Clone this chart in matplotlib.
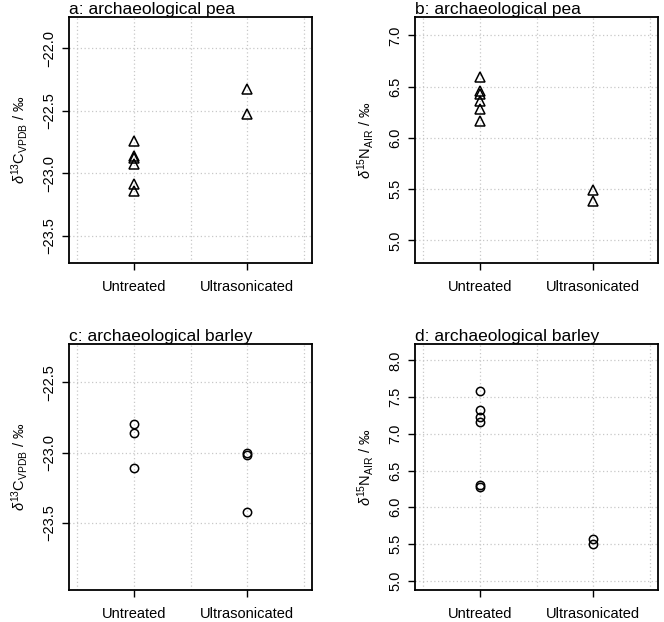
import matplotlib
matplotlib.use("Agg")
import matplotlib.pyplot as plt

plt.rcParams['font.family'] = ['Liberation Sans', 'DejaVu Sans']
plt.rcParams['mathtext.fontset'] = 'custom'
plt.rcParams['mathtext.rm'] = 'Liberation Sans'
plt.rcParams['mathtext.it'] = 'Liberation Sans:italic'

groups = ['Untreated', 'Ultrasonicated']

# a: pea d13C
pea_c_untreated = [-22.74, -22.86, -22.88, -22.93, -23.09, -23.14]
pea_c_ultra = [-22.33, -22.53]
# b: pea d15N
pea_n_untreated = [6.59, 6.46, 6.43, 6.36, 6.28, 6.17]
pea_n_ultra = [5.49, 5.38]
# c: barley d13C
barley_c_untreated = [-22.80, -22.86, -23.11]
barley_c_ultra = [-23.00, -23.02, -23.42]
# d: barley d15N
barley_n_untreated = [7.59, 7.33, 7.23, 7.16, 6.30, 6.27]
barley_n_ultra = [5.57, 5.50]

label_c = r'$\delta^{13}\mathrm{C}_{\mathrm{VPDB}}$ / ‰'
label_n = r'$\delta^{15}\mathrm{N}_{\mathrm{AIR}}$ / ‰'

panels = [
    ('a: archaeological pea', pea_c_untreated, pea_c_ultra, '^', label_c,
     (-23.72, -21.75), [-22.0, -22.5, -23.0, -23.5], [0.1039, 0.5772]),
    ('b: archaeological pea', pea_n_untreated, pea_n_ultra, '^', label_n,
     (4.78, 7.18), [5.0, 5.5, 6.0, 6.5, 7.0], [0.625, 0.5772]),
    ('c: archaeological barley', barley_c_untreated, barley_c_ultra, 'o', label_c,
     (-23.98, -22.23), [-22.5, -23.0, -23.5], [0.1039, 0.051]),
    ('d: archaeological barley', barley_n_untreated, barley_n_ultra, 'o', label_n,
     (4.87, 8.22), [5.0, 5.5, 6.0, 6.5, 7.0, 7.5, 8.0], [0.625, 0.051]),
]

fig = plt.figure(figsize=(6.64, 6.22), dpi=100)

for title, untr, ultra, mk, ylab, ylim, yticks, pos in panels:
    ax = fig.add_axes([pos[0], pos[1], 0.366, 0.3955])
    ms = 7 if mk == '^' else 6
    ax.plot([1] * len(untr), untr, linestyle='none', marker=mk, ms=ms,
            mfc='none', mec='black', mew=1.1, zorder=3)
    ax.plot([2] * len(ultra), ultra, linestyle='none', marker=mk, ms=ms,
            mfc='none', mec='black', mew=1.1, zorder=3)
    ax.set_xlim(0.43, 2.57)
    ax.set_ylim(*ylim)
    ax.set_xticks([1, 2])
    ax.set_xticklabels(groups, fontsize=10.5)
    ax.set_xticks([0.5, 1.5, 2.5], minor=True)
    ax.set_yticks(yticks)
    ax.set_yticklabels([f'{v:.1f}'.replace('-', '\u2212') for v in yticks],
                       fontsize=10.5, rotation=90, va='center')
    ax.tick_params(which='major', direction='out', length=5, width=1)
    ax.tick_params(axis='x', which='major', pad=7)
    ax.tick_params(axis='y', which='major', pad=4)
    ax.tick_params(which='minor', length=0)
    ax.grid(which='both', color='#c8c8c8', linestyle=(0, (1, 2)), linewidth=0.9)
    ax.set_axisbelow(True)
    for sp in ax.spines.values():
        sp.set_linewidth(1.3)
    ax.set_ylabel(ylab, fontsize=10.5, labelpad=9)
    ax.set_title(title, loc='left', fontsize=12.5, pad=1)

fig.savefig('out.png', dpi=100)
